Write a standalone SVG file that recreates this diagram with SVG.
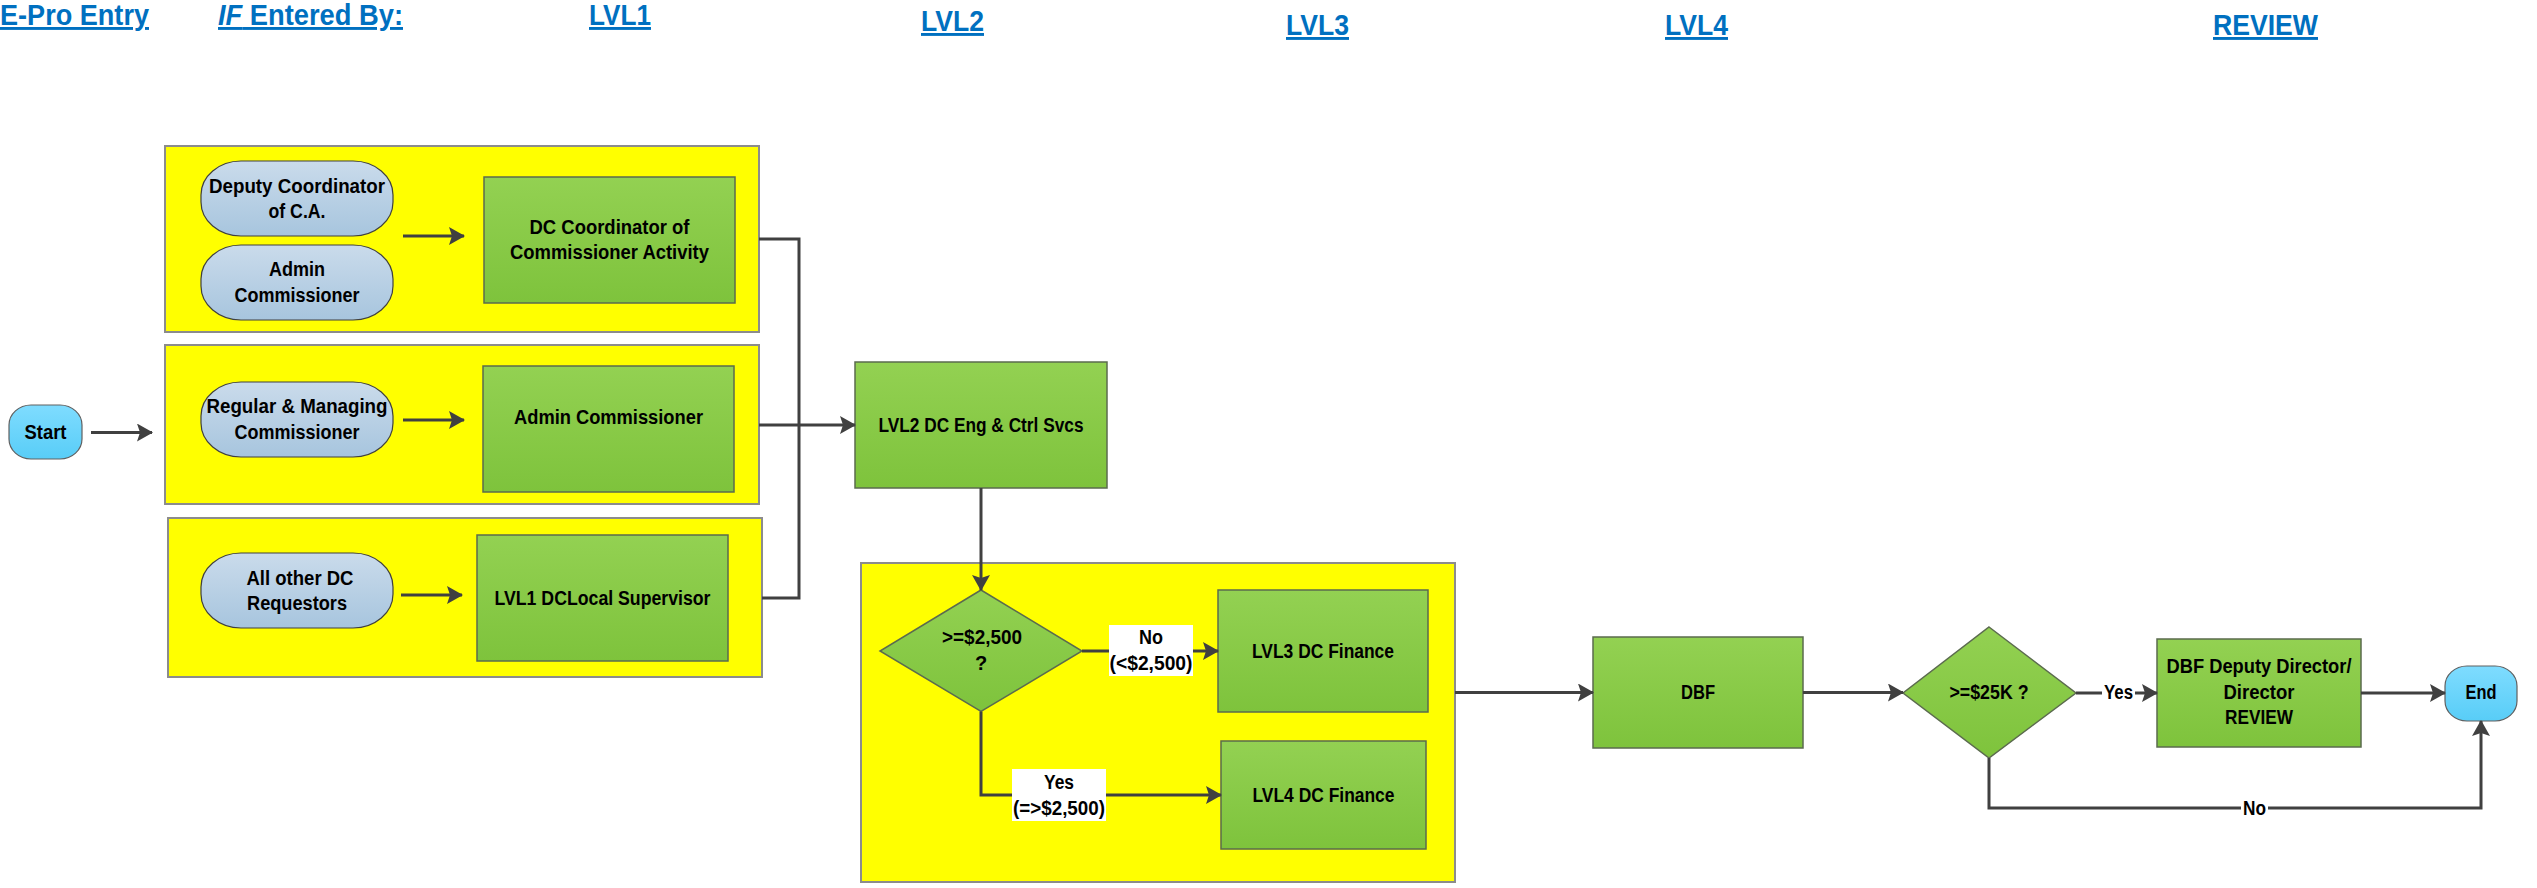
<svg xmlns="http://www.w3.org/2000/svg" width="2537" height="888" viewBox="0 0 2537 888">
<defs>
<linearGradient id="gGreen" x1="0" y1="0" x2="0" y2="1"><stop offset="0" stop-color="#93D152"/><stop offset="1" stop-color="#7EC33C"/></linearGradient>
<linearGradient id="gBlue" x1="0" y1="0" x2="0" y2="1"><stop offset="0" stop-color="#CADBEB"/><stop offset="1" stop-color="#A7C5DE"/></linearGradient>
<linearGradient id="gCyan" x1="0" y1="0" x2="0" y2="1"><stop offset="0" stop-color="#7FDCFF"/><stop offset="1" stop-color="#58CDF7"/></linearGradient>
<marker id="arr" viewBox="0 0 16 18" refX="15" refY="9" markerWidth="16" markerHeight="18" markerUnits="userSpaceOnUse" orient="auto"><path d="M0,0 L16,9 L0,18 L3,9 z" fill="#404040"/></marker>
</defs>
<style>
.hdr{font-family:"Liberation Sans",Arial,sans-serif;font-weight:bold;font-size:29px;fill:#0070C0;text-decoration:underline;}
.t{font-family:"Liberation Sans",Arial,sans-serif;font-weight:bold;font-size:20px;fill:#000;text-anchor:middle;}
.yel{fill:#FFFF00;stroke:#8C8C8C;stroke-width:2;}
.grn{fill:url(#gGreen);stroke:#5B6B4E;stroke-width:1.5;}
.oval{fill:url(#gBlue);stroke:#404040;stroke-width:1.2;}
.term{fill:url(#gCyan);stroke:#606060;stroke-width:1.2;}
.con{fill:none;stroke:#404040;stroke-width:3;}
.lbl{fill:#FFFFFF;}
</style>

<g id="headers">
<text class="hdr" x="0" y="25" textLength="149" lengthAdjust="spacingAndGlyphs">E-Pro Entry</text>
<text class="hdr" x="218" y="25" textLength="185" lengthAdjust="spacingAndGlyphs"><tspan font-style="italic">IF</tspan> Entered By:</text>
<text class="hdr" x="589" y="25" textLength="62" lengthAdjust="spacingAndGlyphs">LVL1</text>
<text class="hdr" x="921" y="31" textLength="63" lengthAdjust="spacingAndGlyphs">LVL2</text>
<text class="hdr" x="1286" y="35" textLength="63" lengthAdjust="spacingAndGlyphs">LVL3</text>
<text class="hdr" x="1665" y="35" textLength="63" lengthAdjust="spacingAndGlyphs">LVL4</text>
<text class="hdr" x="2213" y="35" textLength="105" lengthAdjust="spacingAndGlyphs">REVIEW</text>
</g>

<g id="group1"><rect class="yel" x="165" y="146" width="594" height="186"/></g>
<g id="group2"><rect class="yel" x="165" y="345" width="594" height="159"/></g>
<g id="group3"><rect class="yel" x="168" y="518" width="594" height="159"/></g>
<g id="group4"><rect class="yel" x="861" y="563" width="594" height="319"/></g>

<g id="start"><rect class="term" x="9" y="405" width="73" height="54" rx="22" ry="20"/>
<text class="t" x="45.5" y="439" textLength="42" lengthAdjust="spacingAndGlyphs">Start</text></g>

<g id="oval1"><rect class="oval" x="201" y="161" width="192" height="75" rx="40" ry="34"/>
<text class="t" x="297" y="193" textLength="176" lengthAdjust="spacingAndGlyphs">Deputy Coordinator</text>
<text class="t" x="297" y="218" textLength="57" lengthAdjust="spacingAndGlyphs">of C.A.</text></g>

<g id="oval2"><rect class="oval" x="201" y="245" width="192" height="75" rx="40" ry="34"/>
<text class="t" x="297" y="276" textLength="56" lengthAdjust="spacingAndGlyphs">Admin</text>
<text class="t" x="297" y="302" textLength="125" lengthAdjust="spacingAndGlyphs">Commissioner</text></g>

<g id="oval3"><rect class="oval" x="201" y="382" width="192" height="75" rx="40" ry="34"/>
<text class="t" x="297" y="413" textLength="181" lengthAdjust="spacingAndGlyphs">Regular &amp; Managing</text>
<text class="t" x="297" y="439" textLength="125" lengthAdjust="spacingAndGlyphs">Commissioner</text></g>

<g id="oval4"><rect class="oval" x="201" y="553" width="192" height="75" rx="40" ry="34"/>
<text class="t" x="300" y="585" textLength="107" lengthAdjust="spacingAndGlyphs">All other DC</text>
<text class="t" x="297" y="610" textLength="100" lengthAdjust="spacingAndGlyphs">Requestors</text></g>

<g id="dcCoord"><rect class="grn" x="484" y="177" width="251" height="126"/>
<text class="t" x="609.5" y="234" textLength="160" lengthAdjust="spacingAndGlyphs">DC Coordinator of</text>
<text class="t" x="609.5" y="259" textLength="199" lengthAdjust="spacingAndGlyphs">Commissioner Activity</text></g>

<g id="adminComm"><rect class="grn" x="483" y="366" width="251" height="126"/>
<text class="t" x="608.5" y="424" textLength="189" lengthAdjust="spacingAndGlyphs">Admin Commissioner</text></g>

<g id="lvl1Sup"><rect class="grn" x="477" y="535" width="251" height="126"/>
<text class="t" x="602.5" y="605" textLength="216" lengthAdjust="spacingAndGlyphs">LVL1 DCLocal Supervisor</text></g>

<g id="lvl2"><rect class="grn" x="855" y="362" width="252" height="126"/>
<text class="t" x="981" y="432" textLength="205" lengthAdjust="spacingAndGlyphs">LVL2 DC Eng &amp; Ctrl Svcs</text></g>

<g id="dec1"><polygon class="grn" points="981,590 1082,651 981,711.5 880,651"/>
<text class="t" x="982" y="644" textLength="80" lengthAdjust="spacingAndGlyphs">&gt;=$2,500</text>
<text class="t" x="981" y="670">?</text></g>

<g id="lvl3"><rect class="grn" x="1218" y="590" width="210" height="122"/>
<text class="t" x="1323" y="658" textLength="142" lengthAdjust="spacingAndGlyphs">LVL3 DC Finance</text></g>

<g id="lvl4"><rect class="grn" x="1221" y="741" width="205" height="108"/>
<text class="t" x="1323.5" y="802" textLength="142" lengthAdjust="spacingAndGlyphs">LVL4 DC Finance</text></g>

<g id="dbf"><rect class="grn" x="1593" y="637" width="210" height="111"/>
<text class="t" x="1698" y="699" textLength="34" lengthAdjust="spacingAndGlyphs">DBF</text></g>

<g id="dec2"><polygon class="grn" points="1989,627 2076,693 1989,758 1903,693"/>
<text class="t" x="1989" y="699" textLength="79" lengthAdjust="spacingAndGlyphs">&gt;=$25K ?</text></g>

<g id="dbfReview"><rect class="grn" x="2157" y="639" width="204" height="108"/>
<text class="t" x="2259" y="673" textLength="185" lengthAdjust="spacingAndGlyphs">DBF Deputy Director/</text>
<text class="t" x="2259" y="699" textLength="71" lengthAdjust="spacingAndGlyphs">Director</text>
<text class="t" x="2259" y="724" textLength="68" lengthAdjust="spacingAndGlyphs">REVIEW</text></g>

<g id="end"><rect class="term" x="2445" y="666" width="72" height="55" rx="22" ry="20"/>
<text class="t" x="2481" y="699" textLength="31" lengthAdjust="spacingAndGlyphs">End</text></g>

<g id="connectors">
<path class="con" d="M91,432.5 H152" marker-end="url(#arr)"/>
<path class="con" d="M403,236 H464" marker-end="url(#arr)"/>
<path class="con" d="M403,420 H464" marker-end="url(#arr)"/>
<path class="con" d="M401,595 H462" marker-end="url(#arr)"/>
<path class="con" d="M759,239 H799 V598 H762"/>
<path class="con" d="M759,425 H855" marker-end="url(#arr)"/>
<path class="con" d="M981,488 V590" marker-end="url(#arr)"/>
<path class="con" d="M1082,651 H1218" marker-end="url(#arr)"/>
<path class="con" d="M981,711.5 V795 H1221" marker-end="url(#arr)"/>
<path class="con" d="M1455,692.5 H1593" marker-end="url(#arr)"/>
<path class="con" d="M1803,692.5 H1903" marker-end="url(#arr)"/>
<path class="con" d="M2076,693 H2157" marker-end="url(#arr)"/>
<path class="con" d="M2361,693 H2445" marker-end="url(#arr)"/>
<path class="con" d="M1989,758 V808 H2481 V721" marker-end="url(#arr)"/>
<rect class="lbl" x="1109" y="625" width="84" height="51"/>
<text class="t" x="1151" y="644" textLength="24" lengthAdjust="spacingAndGlyphs">No</text>
<text class="t" x="1151" y="670" textLength="83" lengthAdjust="spacingAndGlyphs">(&lt;$2,500)</text>
<rect class="lbl" x="1012" y="769" width="94" height="52"/>
<text class="t" x="1059" y="789" textLength="30" lengthAdjust="spacingAndGlyphs">Yes</text>
<text class="t" x="1059" y="815" textLength="92" lengthAdjust="spacingAndGlyphs">(=&gt;$2,500)</text>
<rect class="lbl" x="2102" y="681" width="33" height="24"/>
<text class="t" x="2118.5" y="699" textLength="29" lengthAdjust="spacingAndGlyphs">Yes</text>
<rect class="lbl" x="2241" y="797" width="27" height="22"/>
<text class="t" x="2254.5" y="815" textLength="23" lengthAdjust="spacingAndGlyphs">No</text>
</g>
</svg>
